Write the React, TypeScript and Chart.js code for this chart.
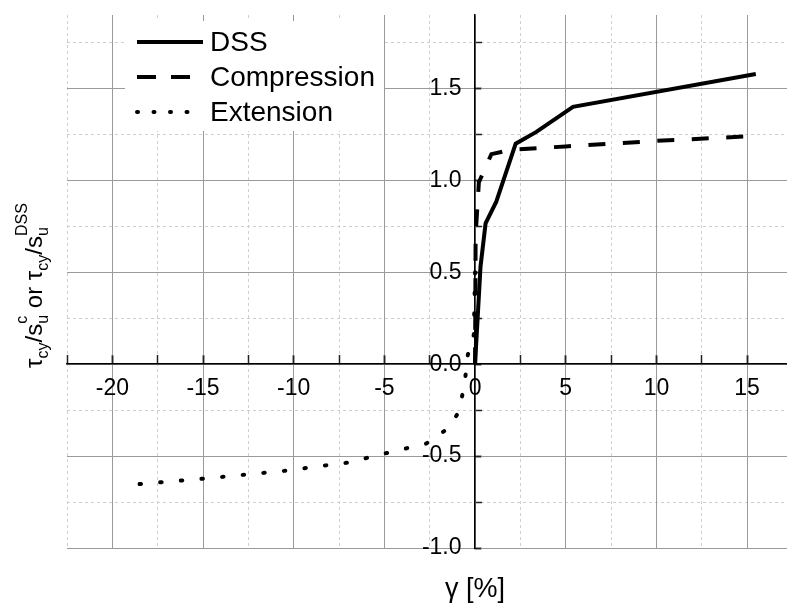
import React, { useEffect, useRef } from 'react';
import { Chart, registerables } from 'chart.js';

Chart.register(...registerables);

// ---- data ----
const seriesLabels = ['DSS', 'Compression', 'Extension'];

const dssX = [0, 0.3, 0.58, 1.17, 2.24, 3.38, 5.4, 15.48];
const dssY = [0, 0.53, 0.766, 0.884, 1.2, 1.264, 1.4, 1.579];

const compX = [0, 0.03, 0.21, 0.9, 2, 5, 10, 15.1];
const compY = [0, 0.7, 0.99, 1.143, 1.167, 1.185, 1.215, 1.24];

const extX = [-18.5, -15, -10.5, -7, -4.9, -2.7, -1.6, -1.0, -0.7, -0.52, -0.4, -0.07, 0];
const extY = [-0.652, -0.623, -0.58, -0.535, -0.484, -0.432, -0.357, -0.276, -0.167, -0.058, 0.05, 0.16, 0.5];

const xMin = -22.5;
const xMax = 17.2;
const xMajorStep = 5;
const xMinorStep = 2.5;
const yMin = -1.0;
const yMax = 1.9;
const yMajorStep = 0.5;
const yMinorStep = 0.25;
// x value where the y tick labels end (labels sit just left of the y axis)
const yLabelAnchorX = -0.745;

const xTitle = 'γ [%]';
// y title pieces: [text, kind, superscript]
const yTitleParts: Array<[string, string, string?]> = [
  ['τ', 'main'],
  ['cy', 'sub'],
  ['/s', 'main'],
  ['u', 'subsup', 'c'],
  [' or τ', 'main'],
  ['cy', 'sub'],
  ['/s', 'main'],
  ['u', 'subsup', 'DSS'],
];

const FONT = '"Liberation Sans", Arial, Helvetica, sans-serif';

const toPts = (xs: number[], ys: number[]) => xs.map((x, i) => ({ x, y: ys[i] }));

const legendDashes = [[], [19, 15], [1, 15.5]];

const titlesPlugin = {
  id: 'customTitles',
  afterDraw(chart: any) {
    const ctx = chart.ctx;
    const xs = chart.scales.x;
    const area = chart.chartArea;
    ctx.save();
    ctx.fillStyle = '#000';
    // x title
    ctx.font = `27px ${FONT}`;
    ctx.textAlign = 'center';
    ctx.textBaseline = 'middle';
    ctx.fillText(xTitle, xs.getPixelForValue(0), 590);

    // y title (rotated, with sub/superscripts)
    const mainFont = `24px ${FONT}`;
    const smallFont = `16px ${FONT}`;
    const widths = yTitleParts.map(([t, kind, sup]) => {
      if (kind === 'main') { ctx.font = mainFont; return ctx.measureText(t).width; }
      ctx.font = smallFont;
      const w1 = ctx.measureText(t).width;
      const w2 = sup ? ctx.measureText(sup).width : 0;
      return Math.max(w1, w2);
    });
    const total = widths.reduce((a, b) => a + b, 0);
    const cy = (area.top + area.bottom) / 2 + 4;
    ctx.translate(42, cy);
    ctx.rotate(-Math.PI / 2);
    ctx.textAlign = 'left';
    ctx.textBaseline = 'alphabetic';
    let px = -total / 2;
    yTitleParts.forEach(([t, kind, sup], i) => {
      if (kind === 'main') {
        ctx.font = mainFont;
        ctx.fillText(t, px, 0);
      } else if (kind === 'sub') {
        ctx.font = smallFont;
        ctx.fillText(t, px, 6);
      } else {
        ctx.font = smallFont;
        ctx.fillText(t, px, 6);
        if (sup) ctx.fillText(sup, px, -15);
      }
      px += widths[i];
    });
    ctx.restore();
  },
};

const legendPlugin = {
  id: 'customLegend',
  afterDraw(chart: any) {
    const ctx = chart.ctx;
    ctx.save();
    ctx.fillStyle = '#fff';
    ctx.fillRect(125, 21, 259, 110);
    chart.data.datasets.forEach((ds: any, i: number) => {
      const y = 42 + i * 35;
      ctx.save();
      ctx.strokeStyle = ds.borderColor;
      ctx.lineWidth = ds.borderWidth;
      ctx.lineCap = ds.borderCapStyle || 'butt';
      ctx.setLineDash(legendDashes[i]);
      ctx.beginPath();
      ctx.moveTo(137, y);
      ctx.lineTo(203, y);
      ctx.stroke();
      ctx.restore();
      ctx.fillStyle = '#000';
      ctx.font = `28px ${FONT}`;
      ctx.textAlign = 'left';
      ctx.textBaseline = 'middle';
      ctx.fillText(ds.label, 210, y + 1);
    });
    ctx.restore();
  },
};

export default function App() {
  const ref = useRef<HTMLCanvasElement | null>(null);

  useEffect(() => {
    if (!ref.current) return;
    const tickFont = { family: FONT, size: 23 };
    const chart = new Chart(ref.current, {
      type: 'scatter',
      data: {
        datasets: [
          {
            label: seriesLabels[0],
            data: toPts(dssX, dssY),
            showLine: true,
            borderColor: '#000',
            borderWidth: 4,
            pointRadius: 0,
            tension: 0,
          },
          {
            label: seriesLabels[1],
            data: toPts(compX, compY),
            showLine: true,
            borderColor: '#000',
            borderWidth: 4,
            borderDash: [17, 17.5],
            pointRadius: 0,
            tension: 0,
          },
          {
            label: seriesLabels[2],
            data: toPts(extX, extY),
            showLine: true,
            borderColor: '#000',
            borderWidth: 4,
            borderDash: [1.5, 19.2],
            borderCapStyle: 'round',
            pointRadius: 0,
            tension: 0,
          },
        ],
      },
      options: {
        responsive: false,
        animation: false,
        layout: { padding: { left: 67, top: 15, right: 0, bottom: 57 } },
        plugins: {
          legend: { display: false },
          tooltip: { enabled: false },
          title: { display: false },
        },
        scales: {
          xMinor: {
            type: 'linear',
            axis: 'x',
            position: { y: 0 },
            min: xMin,
            max: xMax,
            ticks: { display: false, stepSize: xMinorStep, includeBounds: false },
            grid: {
              color: '#cfcfcf',
              lineWidth: 1,
              drawTicks: true,
              tickLength: -9,
              tickColor: '#222',
              tickWidth: 1.5,
              borderDash: [3, 3],
            },
            border: { display: false, dash: [3, 3] },
          },
          yMinor: {
            type: 'linear',
            axis: 'y',
            position: { x: 0 },
            min: yMin,
            max: yMax,
            ticks: { display: false, stepSize: yMinorStep, includeBounds: false },
            grid: {
              color: '#cfcfcf',
              lineWidth: 1,
              drawTicks: true,
              tickLength: -7,
              tickColor: '#222',
              tickWidth: 1.5,
              borderDash: [3, 3],
            },
            border: { display: false, dash: [3, 3] },
          },
          x: {
            type: 'linear',
            position: { y: 0 },
            min: xMin,
            max: xMax,
            ticks: {
              stepSize: xMajorStep,
              includeBounds: false,
              color: '#000',
              font: tickFont,
              padding: 20,
              maxRotation: 0,
              autoSkip: false,
              callback: (v: any) => String(v),
            },
            grid: {
              color: '#9a9a9a',
              lineWidth: 1,
              drawTicks: true,
              tickLength: -9,
              tickColor: '#222',
              tickWidth: 1.5,
            },
            border: { display: true, color: '#000', width: 1.5 },
          },
          y: {
            type: 'linear',
            position: { x: 0 },
            min: yMin,
            max: yMax,
            ticks: { display: false, stepSize: yMajorStep, includeBounds: false, padding: 0 },
            grid: {
              color: '#9a9a9a',
              lineWidth: 1,
              drawTicks: true,
              tickLength: -7,
              tickColor: '#222',
              tickWidth: 1.5,
            },
            border: { display: true, color: '#000', width: 1.5 },
          },
          yLabels: {
            type: 'linear',
            axis: 'y',
            position: { x: yLabelAnchorX },
            min: yMin,
            max: yMax,
            ticks: {
              stepSize: yMajorStep,
              includeBounds: false,
              color: '#000',
              font: tickFont,
              padding: 0,
              autoSkip: false,
              callback: (v: any) => Number(v).toFixed(1),
            },
            grid: { display: false, drawTicks: false },
            border: { display: false },
          },
        },
      },
      plugins: [titlesPlugin, legendPlugin],
    } as any);
    return () => chart.destroy();
  }, []);

  return (
    <div style={{ position: 'absolute', left: 0, top: 0, width: 787, height: 605, background: '#fff' }}>
      <canvas ref={ref} width={787} height={605} style={{ display: 'block' }} />
    </div>
  );
}
